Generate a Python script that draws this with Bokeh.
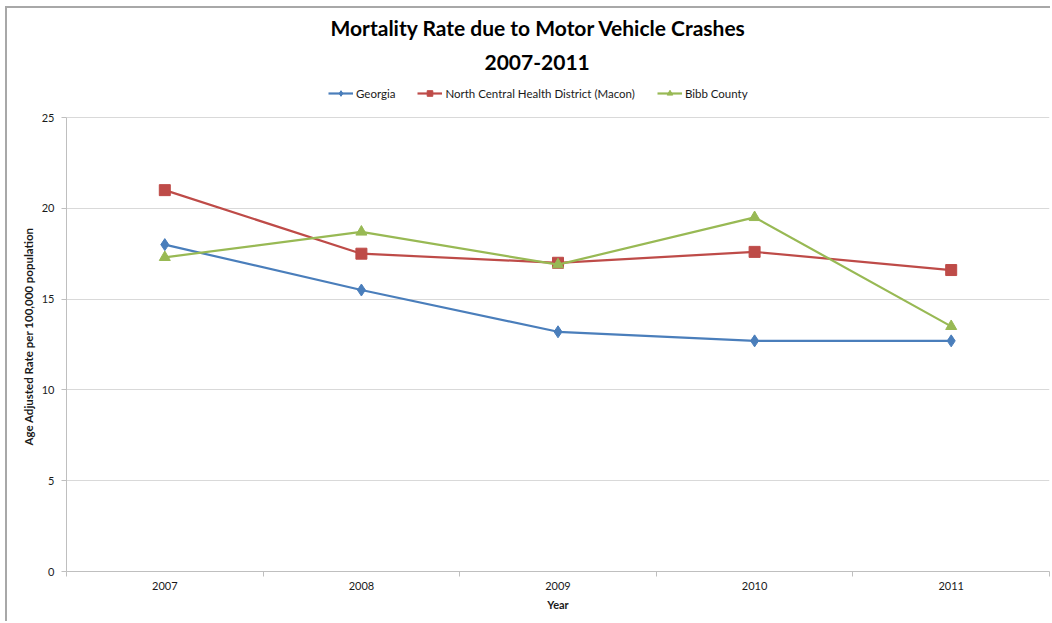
from bokeh.plotting import figure
from bokeh.models import FixedTicker, Legend, LegendItem, Title, Range1d
from bokeh.embed import file_html
from bokeh.resources import INLINE

# Age adjusted motor vehicle crash mortality, per 100,000 population
years = [2007, 2008, 2009, 2010, 2011]
georgia = [18.0, 15.5, 13.2, 12.7, 12.7]
north_central = [21.0, 17.5, 17.0, 17.6, 16.6]
bibb_county = [17.3, 18.7, 16.9, 19.5, 13.5]
y_ticks = [0, 5, 10, 15, 20, 25]
series_names = ["Georgia", "North Central Health District (Macon)", "Bibb County"]

FONT = "Lato"
TEXT = "#1a1a1a"
AXIS = "#bfbfbf"

# canvas and frame geometry (pixels); the frame also holds the legend row
W, H = 1045, 615
LEFT, RIGHT, TOP, BOTTOM = 59, 3, 72, 52
FRAME_H = H - TOP - BOTTOM
AXIS_H = 454                      # height used by the 0..25 scale
Y_END = y_ticks[-1] * FRAME_H / AXIS_H

p = figure(
    width=W, height=H, title=None,
    output_backend="svg", toolbar_location=None,
    x_range=Range1d(years[0] - 0.5, years[-1] + 0.5),
    y_range=Range1d(y_ticks[0], Y_END),
    min_border_left=LEFT, min_border_right=RIGHT,
    min_border_bottom=BOTTOM, min_border_top=TOP,
)
p.styles = {
    "margin-left": "5px", "margin-top": "6px",
    "border-left": "2px solid #a8a8a8", "border-top": "2px solid #a8a8a8",
}
p.outline_line_color = None
p.background_fill_color = "white"
p.border_fill_color = "white"

# grid: horizontal lines only
p.xgrid.grid_line_color = None
p.ygrid.grid_line_color = "#d9d9d9"
p.ygrid.grid_line_width = 1

# x axis: labels at the years, tick marks between categories
p.xaxis.ticker = FixedTicker(ticks=years, minor_ticks=[y - 0.5 for y in years] + [years[-1] + 0.5])
p.xaxis.major_tick_out = 0
p.xaxis.major_tick_in = 0
p.xaxis.minor_tick_out = 5
p.xaxis.minor_tick_in = 0
p.xaxis.minor_tick_line_color = AXIS
p.xaxis.axis_label = "Year"

# y axis, drawn only over 0..25
p.yaxis.ticker = FixedTicker(ticks=y_ticks, minor_ticks=[])
p.yaxis.bounds = (y_ticks[0], y_ticks[-1])
p.yaxis.major_tick_out = 5
p.yaxis.major_tick_in = 0

for ax in (p.xaxis, p.yaxis):
    ax.axis_line_color = AXIS
    ax.major_tick_line_color = AXIS
    ax.major_label_text_font = FONT
    ax.major_label_text_font_size = "11px"
    ax.major_label_text_color = TEXT
    ax.axis_label_text_font = FONT
    ax.axis_label_text_font_size = "11px"
    ax.axis_label_text_font_style = "bold"
    ax.axis_label_text_color = TEXT
p.xaxis.major_label_standoff = 5
p.xaxis.axis_label_standoff = 5
p.yaxis.major_label_standoff = 7

# y axis title, centred on the 0..25 span rather than the whole frame
p.add_layout(Title(text="Age Adjusted Rate per 100,000 population", align="left",
                   text_font=FONT, text_font_size="11.5px", text_font_style="bold",
                   text_color=TEXT, offset=126, standoff=7), "left")

colors = ["#4a7ebb", "#be4b48", "#98b954"]
markers = ["diamond", "square", "triangle"]
sizes = [12, 11, 11]
values = [georgia, north_central, bibb_county]

items = []
for name, vals, col, mk, sz in zip(series_names, values, colors, markers, sizes):
    ln = p.line(years, vals, line_color=col, line_width=2.2)
    sc = p.scatter(years, vals, marker=mk, size=sz, fill_color=col, line_color=col)
    items.append(LegendItem(label=name, renderers=[ln, sc]))

# legend row just above the 25 gridline
legend = Legend(
    items=items, orientation="horizontal", location=(262, 471),
    border_line_alpha=0, background_fill_alpha=0,
    label_text_font=FONT, label_text_font_size="11.5px", label_text_color=TEXT,
    glyph_width=25, glyph_height=14, spacing=22, label_standoff=3,
    padding=0, margin=0, label_height=14,
)
p.add_layout(legend, "center")

p.add_layout(Title(text="2007-2011", align="left", text_font=FONT,
                   text_font_size="21px", text_font_style="bold",
                   text_color="black", offset=418, standoff=22), "above")
p.add_layout(Title(text="Mortality Rate due to Motor Vehicle Crashes", align="left",
                   text_font=FONT, text_font_size="21px", text_font_style="bold",
                   text_color="black", offset=264, standoff=3), "above")

open("out.html", "w").write(file_html(p, INLINE))
